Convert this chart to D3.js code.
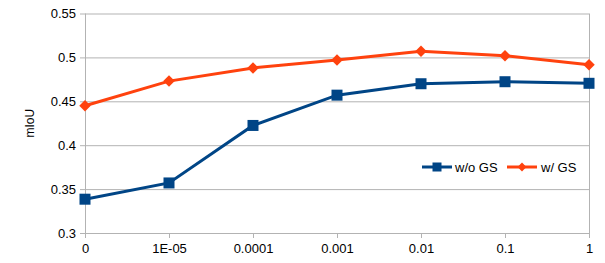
<!DOCTYPE html>
<html lang="en">
<head>
    <script src="https://d3js.org/d3.v7.min.js"></script>
    <style>
        body { margin: 0; background: #fff; font-family: 'Liberation Sans', Arial, sans-serif; }
        .axis text { font-size: 13px; fill: #000; font-family: 'Liberation Sans', Arial, sans-serif; }
        .axis path, .axis line { stroke: #b3b3b3; }
        .grid line { stroke: #b3b3b3; }
        .legend text { font-size: 13px; }
    </style>
</head>
<body>
<script>
    // categories on the x axis
    var weights = ["0", "1E-05", "0.0001", "0.001", "0.01", "0.1", "1"];
    // series values (mIoU)
    var withoutGS = [0.3385, 0.357, 0.4225, 0.457, 0.470, 0.4723, 0.4705];
    var withGS = [0.445, 0.473, 0.488, 0.497, 0.507, 0.502, 0.4915];
    var yTicks = [0.3, 0.35, 0.4, 0.45, 0.5, 0.55];
    var seriesNames = ["w/o GS", "w/ GS"];

    var width = 605, height = 263;
    var margin = {top: 13.5, right: 16, bottom: 30, left: 85};
    var w = width - margin.left - margin.right;
    var h = height - margin.top - margin.bottom;

    var svg = d3.select("body").append("svg")
        .attr("width", width)
        .attr("height", height);

    var g = svg.append("g")
        .attr("transform", "translate(" + margin.left + "," + margin.top + ")");

    var x = d3.scalePoint().domain(weights).range([0, w]).padding(0);
    var y = d3.scaleLinear().domain([0.3, 0.55]).range([h, 0]);

    // horizontal grid lines
    g.append("g")
        .attr("class", "grid")
        .call(d3.axisLeft(y).tickValues(yTicks).tickSize(-w).tickFormat(""))
        .call(g => g.select(".domain").remove());

    // right border of the plot
    g.append("line")
        .attr("x1", w + 0.5).attr("x2", w + 0.5)
        .attr("y1", 0).attr("y2", h)
        .attr("stroke", "#b3b3b3");

    // y axis
    g.append("g")
        .attr("class", "axis")
        .call(d3.axisLeft(y).tickValues(yTicks).tickSize(5).tickPadding(4)
            .tickFormat(d => d3.format("")(+d.toFixed(2))))
        .call(g => g.select(".domain").attr("d", "M0.5,0V" + h));

    // x axis
    g.append("g")
        .attr("class", "axis")
        .attr("transform", "translate(0," + h + ")")
        .call(d3.axisBottom(x).tickSize(5).tickPadding(6))
        .call(g => g.select(".domain").attr("d", "M0," + 0.5 + "H" + w));

    // y axis title
    svg.append("text")
        .attr("transform", "translate(34," + (margin.top + h / 2) + ") rotate(-90)")
        .attr("text-anchor", "middle")
        .style("font-size", "12px")
        .text("mIoU");

    var line = d3.line()
        .x((d, i) => x(weights[i]))
        .y(d => y(d));

    var blue = "#004586", orange = "#ff420e";

    // w/o GS
    g.append("path")
        .datum(withoutGS)
        .attr("fill", "none")
        .attr("stroke", blue)
        .attr("stroke-width", 3)
        .attr("d", line);
    g.selectAll(".sq")
        .data(withoutGS)
        .enter().append("rect")
        .attr("x", (d, i) => x(weights[i]) - 5.5)
        .attr("y", d => y(d) - 5.5)
        .attr("width", 11).attr("height", 11)
        .attr("fill", blue);

    // w/ GS
    g.append("path")
        .datum(withGS)
        .attr("fill", "none")
        .attr("stroke", orange)
        .attr("stroke-width", 3)
        .attr("d", line);
    var diamond = d3.symbol().type(d3.symbolDiamond2).size(84);
    g.selectAll(".dm")
        .data(withGS)
        .enter().append("path")
        .attr("transform", (d, i) => "translate(" + x(weights[i]) + "," + y(d) + ")")
        .attr("d", diamond)
        .attr("fill", orange);

    // legend
    var legend = svg.append("g").attr("class", "legend").attr("transform", "translate(422,167)");
    legend.append("line").attr("x1", 0).attr("x2", 30).attr("y1", 0).attr("y2", 0)
        .attr("stroke", blue).attr("stroke-width", 3);
    legend.append("rect").attr("x", 10.5).attr("y", -4.5).attr("width", 9).attr("height", 9).attr("fill", blue);
    legend.append("text").attr("x", 33).attr("y", 5).text(seriesNames[0]);

    legend.append("line").attr("x1", 85).attr("x2", 115).attr("y1", 0).attr("y2", 0)
        .attr("stroke", orange).attr("stroke-width", 3);
    legend.append("path").attr("transform", "translate(100,0)")
        .attr("d", d3.symbol().type(d3.symbolDiamond2).size(50)).attr("fill", orange);
    legend.append("text").attr("x", 119).attr("y", 5).text(seriesNames[1]);
</script>
</body>
</html>
